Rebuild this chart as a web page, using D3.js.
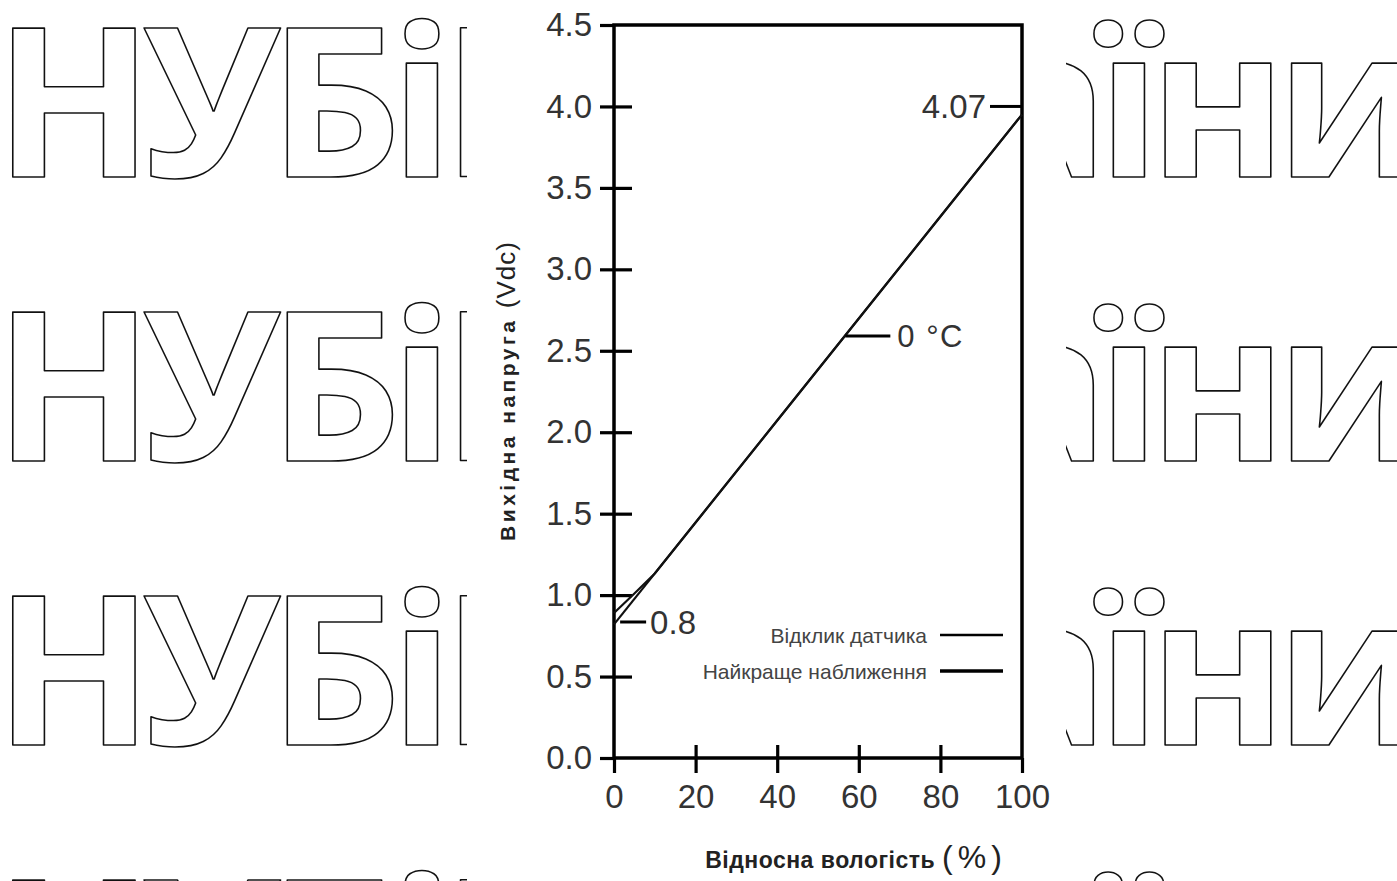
<!DOCTYPE html>
<html>
<head>
<meta charset="utf-8">
<script src="https://cdn.jsdelivr.net/npm/d3@7"></script>
<style>
  body { margin: 0; background: #fff; }
  svg { display: block; }
</style>
</head>
<body>
<div id="chart"></div>
<script>
// Chart data
const yTicks = [0.0, 0.5, 1.0, 1.5, 2.0, 2.5, 3.0, 3.5, 4.0, 4.5];
const xTicks = [0, 20, 40, 60, 80, 100];

// Sensor response (humidity %, volts)
const sensorX = [0, 5, 10, 20, 40, 60, 80, 100];
const sensorY = [0.89, 1.01, 1.133, 1.446, 2.072, 2.698, 3.324, 3.95];

// Best fit line
const fitX = [0, 100];
const fitY = [0.82, 3.95];

// Annotations on the curve
const noteLabels = ["4.07", "0 °C", "0.8"];
const noteX = [100, 56.7, 1.5];
const noteY = [4.0, 2.59, 0.835];

const legendLabels = ["Відклик датчика", "Найкраще наближення"];

const watermark = "НУБіП України";

const width = 1397, height = 881;

let svg = d3.select("#chart")
    .append("svg")
    .attr("width", width)
    .attr("height", height);

svg.append("rect").attr("width", width).attr("height", height).attr("fill", "#fff");

// Background watermark rows (outlined letters)
let wm = svg.append("g");
for (let i = 0; i < 4; i++) {
    let t = wm.append("text")
        .attr("x", -6)
        .attr("y", 177 + i * 284)
        .style("font-family", "'Open Sans'")
        .style("font-weight", 700)
        .style("font-size", "209px")
        .style("letter-spacing", "-12px")
        .attr("fill", "#fff")
        .attr("stroke", "#111")
        .attr("stroke-width", 1.6)
        .attr("stroke-linejoin", "round")
        .text(watermark);
    // push the second word so that "ї" sits where the reference shows it
    let idx = watermark.indexOf("ї");
    let pos = t.node().getStartPositionOfChar(idx).x;
    t.style("word-spacing", `${1097 - pos}px`);
}

// White panel behind the chart
svg.append("rect")
    .attr("x", 467).attr("y", 0)
    .attr("width", 1066 - 467).attr("height", height)
    .attr("fill", "#fff");

// Scales
let x = d3.scaleLinear().domain([0, 100]).range([614, 1022]);
let y = d3.scaleLinear().domain([0, 4.5]).range([758, 25]);

const labelFont = "'Liberation Sans', Arial, sans-serif";

// Y axis
let yAxis = svg.append("g")
    .attr("transform", `translate(${x(0)},0)`)
    .call(d3.axisLeft(y).tickValues(yTicks).tickFormat(d3.format(".1f"))
        .tickSizeInner(14).tickSizeOuter(0).tickPadding(8));
yAxis.select(".domain").remove();
yAxis.selectAll(".tick line")
    .attr("x1", function(d) { return (d === 0 || d === 4.5) ? 0 : 18; })
    .attr("stroke", "#000").attr("stroke-width", 3.2);
yAxis.selectAll(".tick text")
    .style("font-family", labelFont).style("font-size", "33px").attr("fill", "#333");

// X axis
let xAxis = svg.append("g")
    .attr("transform", `translate(0,${y(0)})`)
    .call(d3.axisBottom(x).tickValues(xTicks)
        .tickSizeInner(15).tickSizeOuter(0).tickPadding(12));
xAxis.select(".domain").remove();
xAxis.selectAll(".tick line")
    .attr("y1", function(d) { return (d === 0 || d === 100) ? 0 : -13; })
    .attr("stroke", "#000").attr("stroke-width", 3.2);
xAxis.selectAll(".tick text")
    .style("font-family", labelFont).style("font-size", "33px").attr("fill", "#333");

// Frame
svg.append("rect")
    .attr("x", x(0)).attr("y", y(4.5))
    .attr("width", x(100) - x(0)).attr("height", y(0) - y(4.5))
    .attr("fill", "none").attr("stroke", "#000").attr("stroke-width", 3.5);

// Lines
let line = d3.line().x(function(d) { return x(d[0]); }).y(function(d) { return y(d[1]); });

svg.append("path")
    .datum(fitX.map(function(v, i) { return [v, fitY[i]]; }))
    .attr("d", line)
    .attr("fill", "none").attr("stroke", "#111").attr("stroke-width", 2.2);

svg.append("path")
    .datum(sensorX.map(function(v, i) { return [v, sensorY[i]]; }))
    .attr("d", line)
    .attr("fill", "none").attr("stroke", "#111").attr("stroke-width", 2.2);

// Annotation markers
// 4.07 : marker to the left of the point
svg.append("line")
    .attr("x1", x(noteX[0]) - 32).attr("x2", x(noteX[0]))
    .attr("y1", y(noteY[0])).attr("y2", y(noteY[0]))
    .attr("stroke", "#000").attr("stroke-width", 3);
svg.append("text")
    .attr("x", x(noteX[0]) - 36).attr("y", y(noteY[0]))
    .attr("dy", "0.36em").attr("text-anchor", "end")
    .style("font-family", labelFont).style("font-size", "33px").attr("fill", "#333")
    .text(noteLabels[0]);

// 0 °C and 0.8 : marker to the right of the point
[1, 2].forEach(function(i) {
    let len = i === 1 ? 45 : 26;
    svg.append("line")
        .attr("x1", x(noteX[i])).attr("x2", x(noteX[i]) + len)
        .attr("y1", y(noteY[i])).attr("y2", y(noteY[i]))
        .attr("stroke", "#000").attr("stroke-width", 3);
    svg.append("text")
        .attr("x", x(noteX[i]) + len + (i === 1 ? 7 : 4)).attr("y", y(noteY[i]))
        .attr("dy", "0.36em")
        .style("font-family", labelFont)
        .style("font-size", i === 1 ? "31px" : "33px")
        .style("letter-spacing", i === 1 ? "1.5px" : "0px")
        .attr("fill", "#333")
        .text(noteLabels[i]);
});

// Legend
let legend = svg.append("g");
legendLabels.forEach(function(lab, i) {
    let ly = 635 + i * 36;
    legend.append("text")
        .attr("x", 927).attr("y", ly).attr("dy", "0.36em")
        .attr("text-anchor", "end")
        .style("font-family", labelFont).style("font-size", "21px")
        .attr("fill", "#444")
        .text(lab);
    legend.append("line")
        .attr("x1", 940).attr("x2", 1003)
        .attr("y1", ly).attr("y2", ly)
        .attr("stroke", "#000").attr("stroke-width", i === 0 ? 2.6 : 3.4);
});

// Axis titles
let xt = svg.append("text")
    .attr("x", 856).attr("y", 868)
    .attr("text-anchor", "middle")
    .style("font-family", labelFont).attr("fill", "#222");
xt.append("tspan").style("font-weight", 700).style("font-size", "23px")
    .style("letter-spacing", "0.5px").text("Відносна вологість ");
xt.append("tspan").style("font-size", "32px").style("letter-spacing", "5px").text("(%)");

let yt = svg.append("text")
    .attr("transform", `translate(515,391) rotate(-90)`)
    .attr("text-anchor", "middle")
    .style("font-family", labelFont).attr("fill", "#222");
yt.append("tspan").style("font-weight", 700).style("font-size", "21px")
    .style("letter-spacing", "3.5px").text("Вихідна напруга ");
yt.append("tspan").style("font-size", "26px").style("letter-spacing", "1px").text("(Vdc)");
</script>
</body>
</html>
